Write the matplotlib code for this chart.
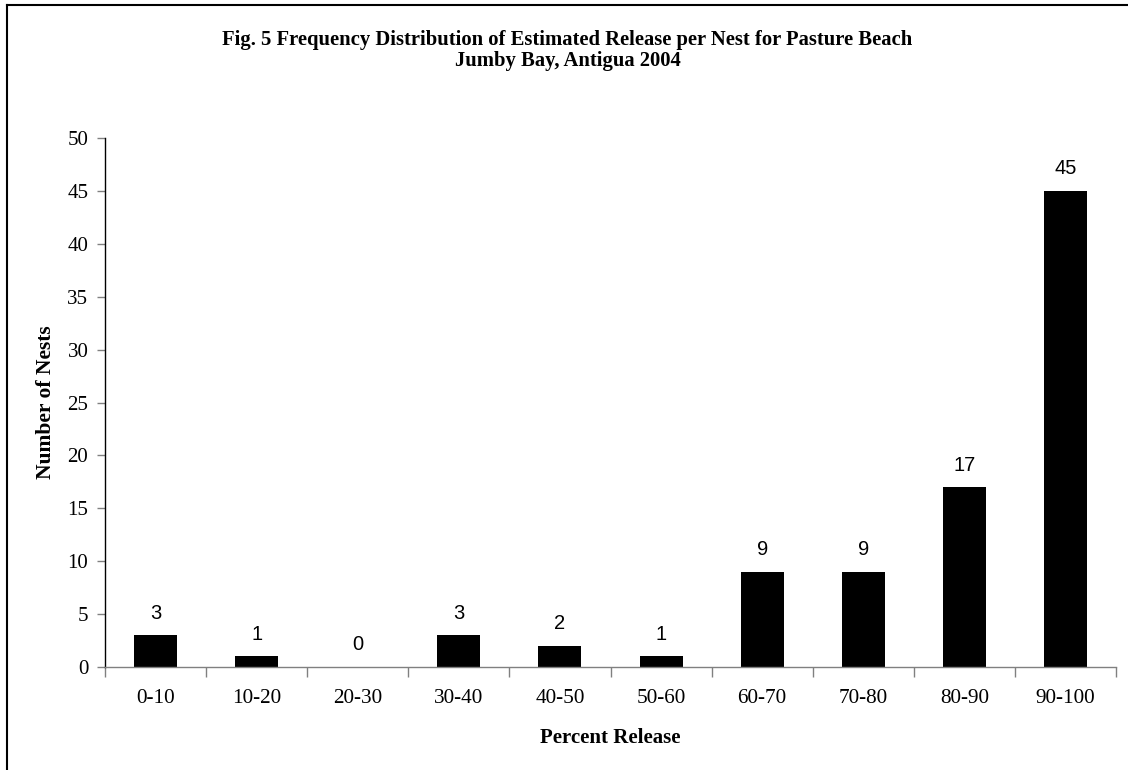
import matplotlib
matplotlib.use("Agg")
import matplotlib.pyplot as plt
from matplotlib.lines import Line2D

categories = ["0-10", "10-20", "20-30", "30-40", "40-50",
              "50-60", "60-70", "70-80", "80-90", "90-100"]
nests = [3, 1, 0, 3, 2, 1, 9, 9, 17, 45]
y_ticks = [0, 5, 10, 15, 20, 25, 30, 35, 40, 45, 50]

serif = ["Liberation Serif", "DejaVu Serif"]
sans = ["Liberation Sans", "DejaVu Sans"]

W, H = 1128, 770
fig = plt.figure(figsize=(W / 100, H / 100), dpi=100)
fig.patch.set_facecolor("white")

ax = fig.add_axes([105 / W, 1 - 667 / H, (1116 - 105) / W, (667 - 138) / H])

x = list(range(len(categories)))
bars = ax.bar(x, nests, width=0.425, color="black", linewidth=0)

for xi, v in zip(x, nests):
    ax.annotate(str(v), (xi, v), xytext=(0, 9), textcoords="offset points",
                ha="center", va="bottom", fontsize=14.5, family=sans)

ax.set_xlim(-0.5, len(categories) - 0.5)
ax.set_ylim(0, 50)
ax.set_yticks(y_ticks)
ax.set_yticklabels([str(t) for t in y_ticks], family=serif, fontsize=15)

ax.set_xticks([i - 0.5 for i in range(len(categories) + 1)])
ax.set_xticklabels([])
ax.set_xticks(x, minor=True)
ax.set_xticklabels(categories, minor=True, family=serif, fontsize=15.3)
ax.tick_params(axis="x", which="major", direction="out", length=7, color="#808080", width=1)
ax.tick_params(axis="x", which="minor", length=0, pad=16)
ax.tick_params(axis="y", direction="out", length=6, color="#808080", width=1, pad=6)

for s in ("top", "right"):
    ax.spines[s].set_visible(False)
ax.spines["left"].set_color("black")
ax.spines["left"].set_linewidth(1)
ax.spines["bottom"].set_color("#808080")
ax.spines["bottom"].set_linewidth(1)

ax.set_xlabel("Percent Release", family=serif, fontsize=15, fontweight="bold", labelpad=14)
ax.set_ylabel("Number of Nests", family=serif, fontsize=15.5, fontweight="bold", labelpad=8)

fig.text(0.5 * (7 + W) / W, 1 - 40 / H,
         "Fig. 5 Frequency Distribution of Estimated Release per Nest for Pasture Beach",
         ha="center", va="center", family=serif, fontsize=14.9, fontweight="bold")
fig.text(0.5 * (7 + W) / W, 1 - 61 / H, "Jumby Bay, Antigua 2004",
         ha="center", va="center", family=serif, fontsize=14.9, fontweight="bold")

# outer frame: top and left edges
fig.add_artist(Line2D([7 / W, 7 / W], [0, 1 - 4.5 / H], color="black", lw=1.5,
                      transform=fig.transFigure))
fig.add_artist(Line2D([7 / W, 1], [1 - 4.5 / H, 1 - 4.5 / H], color="black", lw=1.5,
                      transform=fig.transFigure))

fig.savefig("out.png", dpi=100, facecolor="white")
